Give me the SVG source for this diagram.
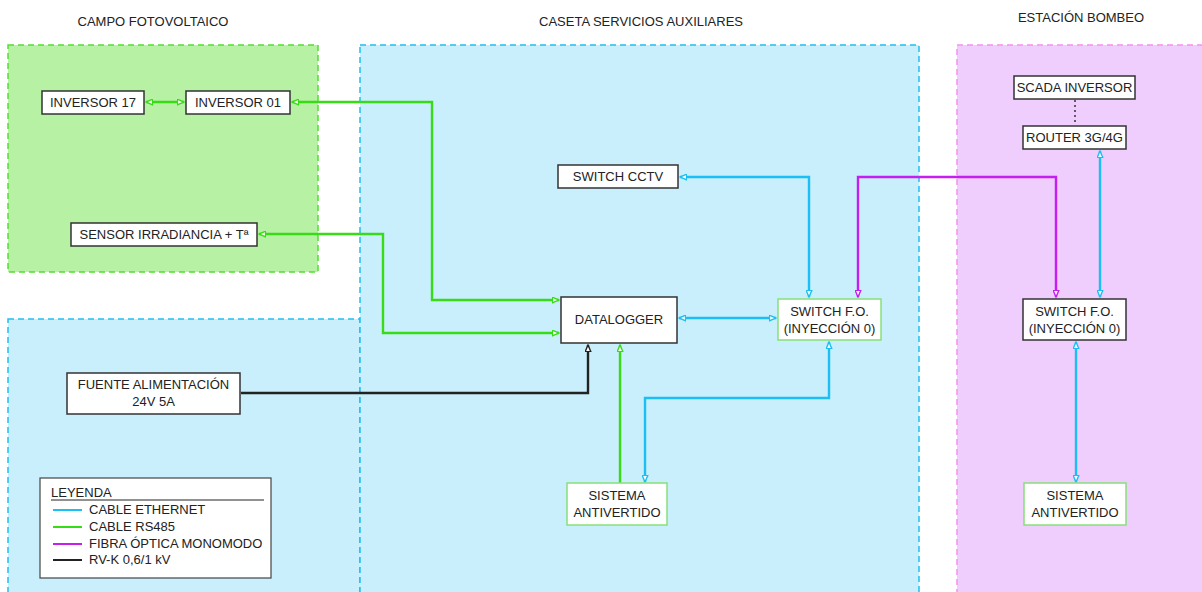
<svg xmlns="http://www.w3.org/2000/svg" width="1202" height="592" viewBox="0 0 1202 592">
<defs>
<style>
.t{font-family:"Liberation Sans",Arial,sans-serif;font-size:13px;fill:#222;text-anchor:middle}
.tl{font-family:"Liberation Sans",Arial,sans-serif;font-size:13px;fill:#222}
.box{fill:#fff;stroke:#333;stroke-width:1.5}
.gbox{fill:#fff;stroke:#88e07a;stroke-width:1.5}
.c{fill:none;stroke-width:2.4;stroke-linejoin:miter}
.g{stroke:#38dc16}
.b{stroke:#1bbff3}
.p{stroke:#c41ff0}
.k{stroke:#222}
</style>
<marker id="ag" viewBox="0 0 8 7" refX="7.3" refY="3.5" markerWidth="8" markerHeight="7" orient="auto-start-reverse" markerUnits="userSpaceOnUse"><path d="M0.7,0.7 L7.3,3.5 L0.7,6.3 Z" fill="#fff" stroke="#38dc16" stroke-width="1.4"/></marker>
<marker id="ab" viewBox="0 0 8 7" refX="7.3" refY="3.5" markerWidth="8" markerHeight="7" orient="auto-start-reverse" markerUnits="userSpaceOnUse"><path d="M0.7,0.7 L7.3,3.5 L0.7,6.3 Z" fill="#fff" stroke="#1bbff3" stroke-width="1.4"/></marker>
<marker id="ap" viewBox="0 0 8 7" refX="7.3" refY="3.5" markerWidth="8" markerHeight="7" orient="auto-start-reverse" markerUnits="userSpaceOnUse"><path d="M0.7,0.7 L7.3,3.5 L0.7,6.3 Z" fill="#fff" stroke="#c41ff0" stroke-width="1.4"/></marker>
<marker id="ak" viewBox="0 0 8 7" refX="7.3" refY="3.5" markerWidth="8" markerHeight="7" orient="auto-start-reverse" markerUnits="userSpaceOnUse"><path d="M0.7,0.7 L7.3,3.5 L0.7,6.3 Z" fill="#fff" stroke="#222" stroke-width="1.4"/></marker>
</defs>
<rect width="1202" height="592" fill="#fff"/>
<g id="zones">
<rect x="8" y="45" width="310" height="227" fill="#b7f1a4" stroke="#55dd33" stroke-width="1.5" stroke-dasharray="6,4"/>
<rect x="8" y="319" width="352" height="290" fill="#c9effd" stroke="#22bff0" stroke-width="1.5" stroke-dasharray="6,4"/>
<rect x="360" y="45" width="559" height="560" fill="#c9effd" stroke="#22bff0" stroke-width="1.5" stroke-dasharray="6,4"/>
<rect x="957" y="45" width="260" height="560" fill="#efcdfc" stroke="#f590ee" stroke-width="1.5" stroke-dasharray="6,4"/>
<text class="t" x="153" y="26">CAMPO FOTOVOLTAICO</text>
<text class="t" x="641" y="26">CASETA SERVICIOS AUXILIARES</text>
<text class="t" x="1081" y="22">ESTACIÓN BOMBEO</text>
</g>
<g id="connectors">
<path class="c g" d="M146,102 H184" marker-start="url(#ag)" marker-end="url(#ag)"/>
<path class="c g" d="M292,102 H432 V300 H559" marker-start="url(#ag)" marker-end="url(#ag)"/>
<path class="c g" d="M259,234 H383 V333 H559" marker-start="url(#ag)" marker-end="url(#ag)"/>
<path class="c k" d="M241,393 H588 V345" marker-end="url(#ak)"/>
<path class="c g" d="M620,483 V345" marker-end="url(#ag)"/>
<path class="c b" d="M679,318 H776" marker-start="url(#ab)" marker-end="url(#ab)"/>
<path class="c b" d="M680,177 H809 V297" marker-start="url(#ab)" marker-end="url(#ab)"/>
<path class="c b" d="M829,342 V398 H645 V482" marker-start="url(#ab)" marker-end="url(#ab)"/>
<path class="c p" d="M858,297 V177 H1056 V297" marker-start="url(#ap)" marker-end="url(#ap)"/>
<path class="c b" d="M1100,151 V297" marker-start="url(#ab)" marker-end="url(#ab)"/>
<path class="c b" d="M1076,342 V482" marker-start="url(#ab)" marker-end="url(#ab)"/>
<path fill="none" stroke="#333" stroke-width="1.5" stroke-dasharray="2,3" d="M1075,100 V125"/>
</g>
<g id="inversor17"><rect class="box" x="42" y="91" width="102" height="23"/><text class="t" x="93" y="107">INVERSOR 17</text></g>
<g id="inversor01"><rect class="box" x="186" y="91" width="104" height="23"/><text class="t" x="238" y="107">INVERSOR 01</text></g>
<g id="sensor"><rect class="box" x="71" y="223" width="186" height="23"/><text class="t" x="164" y="239">SENSOR IRRADIANCIA + Tª</text></g>
<g id="switchcctv"><rect class="box" x="558" y="165" width="120" height="23"/><text class="t" x="618" y="181">SWITCH CCTV</text></g>
<g id="datalogger"><rect class="box" x="561" y="297" width="116" height="46"/><text class="t" x="619" y="324">DATALOGGER</text></g>
<g id="switchfo1"><rect class="gbox" x="778" y="299" width="103" height="41"/><text class="t" x="829.5" y="316">SWITCH F.O.</text><text class="t" x="829.5" y="333">(INYECCIÓN 0)</text></g>
<g id="fuente"><rect class="box" x="67" y="373" width="173" height="41"/><text class="t" x="153.5" y="389">FUENTE ALIMENTACIÓN</text><text class="t" x="153.5" y="406">24V 5A</text></g>
<g id="antivertido1"><rect class="gbox" x="567" y="483" width="100" height="42"/><text class="t" x="617" y="500">SISTEMA</text><text class="t" x="617" y="517">ANTIVERTIDO</text></g>
<g id="scada"><rect class="box" x="1014" y="76" width="121" height="23"/><text class="t" x="1074.5" y="92">SCADA INVERSOR</text></g>
<g id="router"><rect class="box" x="1023" y="126" width="103" height="23"/><text class="t" x="1074.5" y="142">ROUTER 3G/4G</text></g>
<g id="switchfo2"><rect class="box" x="1023" y="299" width="103" height="41"/><text class="t" x="1074.5" y="316">SWITCH F.O.</text><text class="t" x="1074.5" y="333">(INYECCIÓN 0)</text></g>
<g id="antivertido2"><rect class="gbox" x="1024" y="483" width="102" height="42"/><text class="t" x="1075" y="500">SISTEMA</text><text class="t" x="1075" y="517">ANTIVERTIDO</text></g>
<g id="legend">
<rect x="40" y="478" width="231" height="100" fill="#fff" stroke="#444" stroke-width="1.2"/>
<text class="tl" x="51" y="497">LEYENDA</text>
<line x1="51" y1="500" x2="264" y2="500" stroke="#222" stroke-width="1"/>
<line x1="53" y1="510" x2="82" y2="510" stroke="#1bbff3" stroke-width="2"/>
<text class="tl" x="89" y="514">CABLE ETHERNET</text>
<line x1="53" y1="527" x2="82" y2="527" stroke="#38dc16" stroke-width="2"/>
<text class="tl" x="89" y="531">CABLE RS485</text>
<line x1="53" y1="544" x2="82" y2="544" stroke="#c41ff0" stroke-width="2"/>
<text class="tl" x="89" y="548">FIBRA ÓPTICA MONOMODO</text>
<line x1="53" y1="560" x2="82" y2="560" stroke="#222" stroke-width="2"/>
<text class="tl" x="89" y="564">RV-K 0,6/1 kV</text>
</g>
</svg>
